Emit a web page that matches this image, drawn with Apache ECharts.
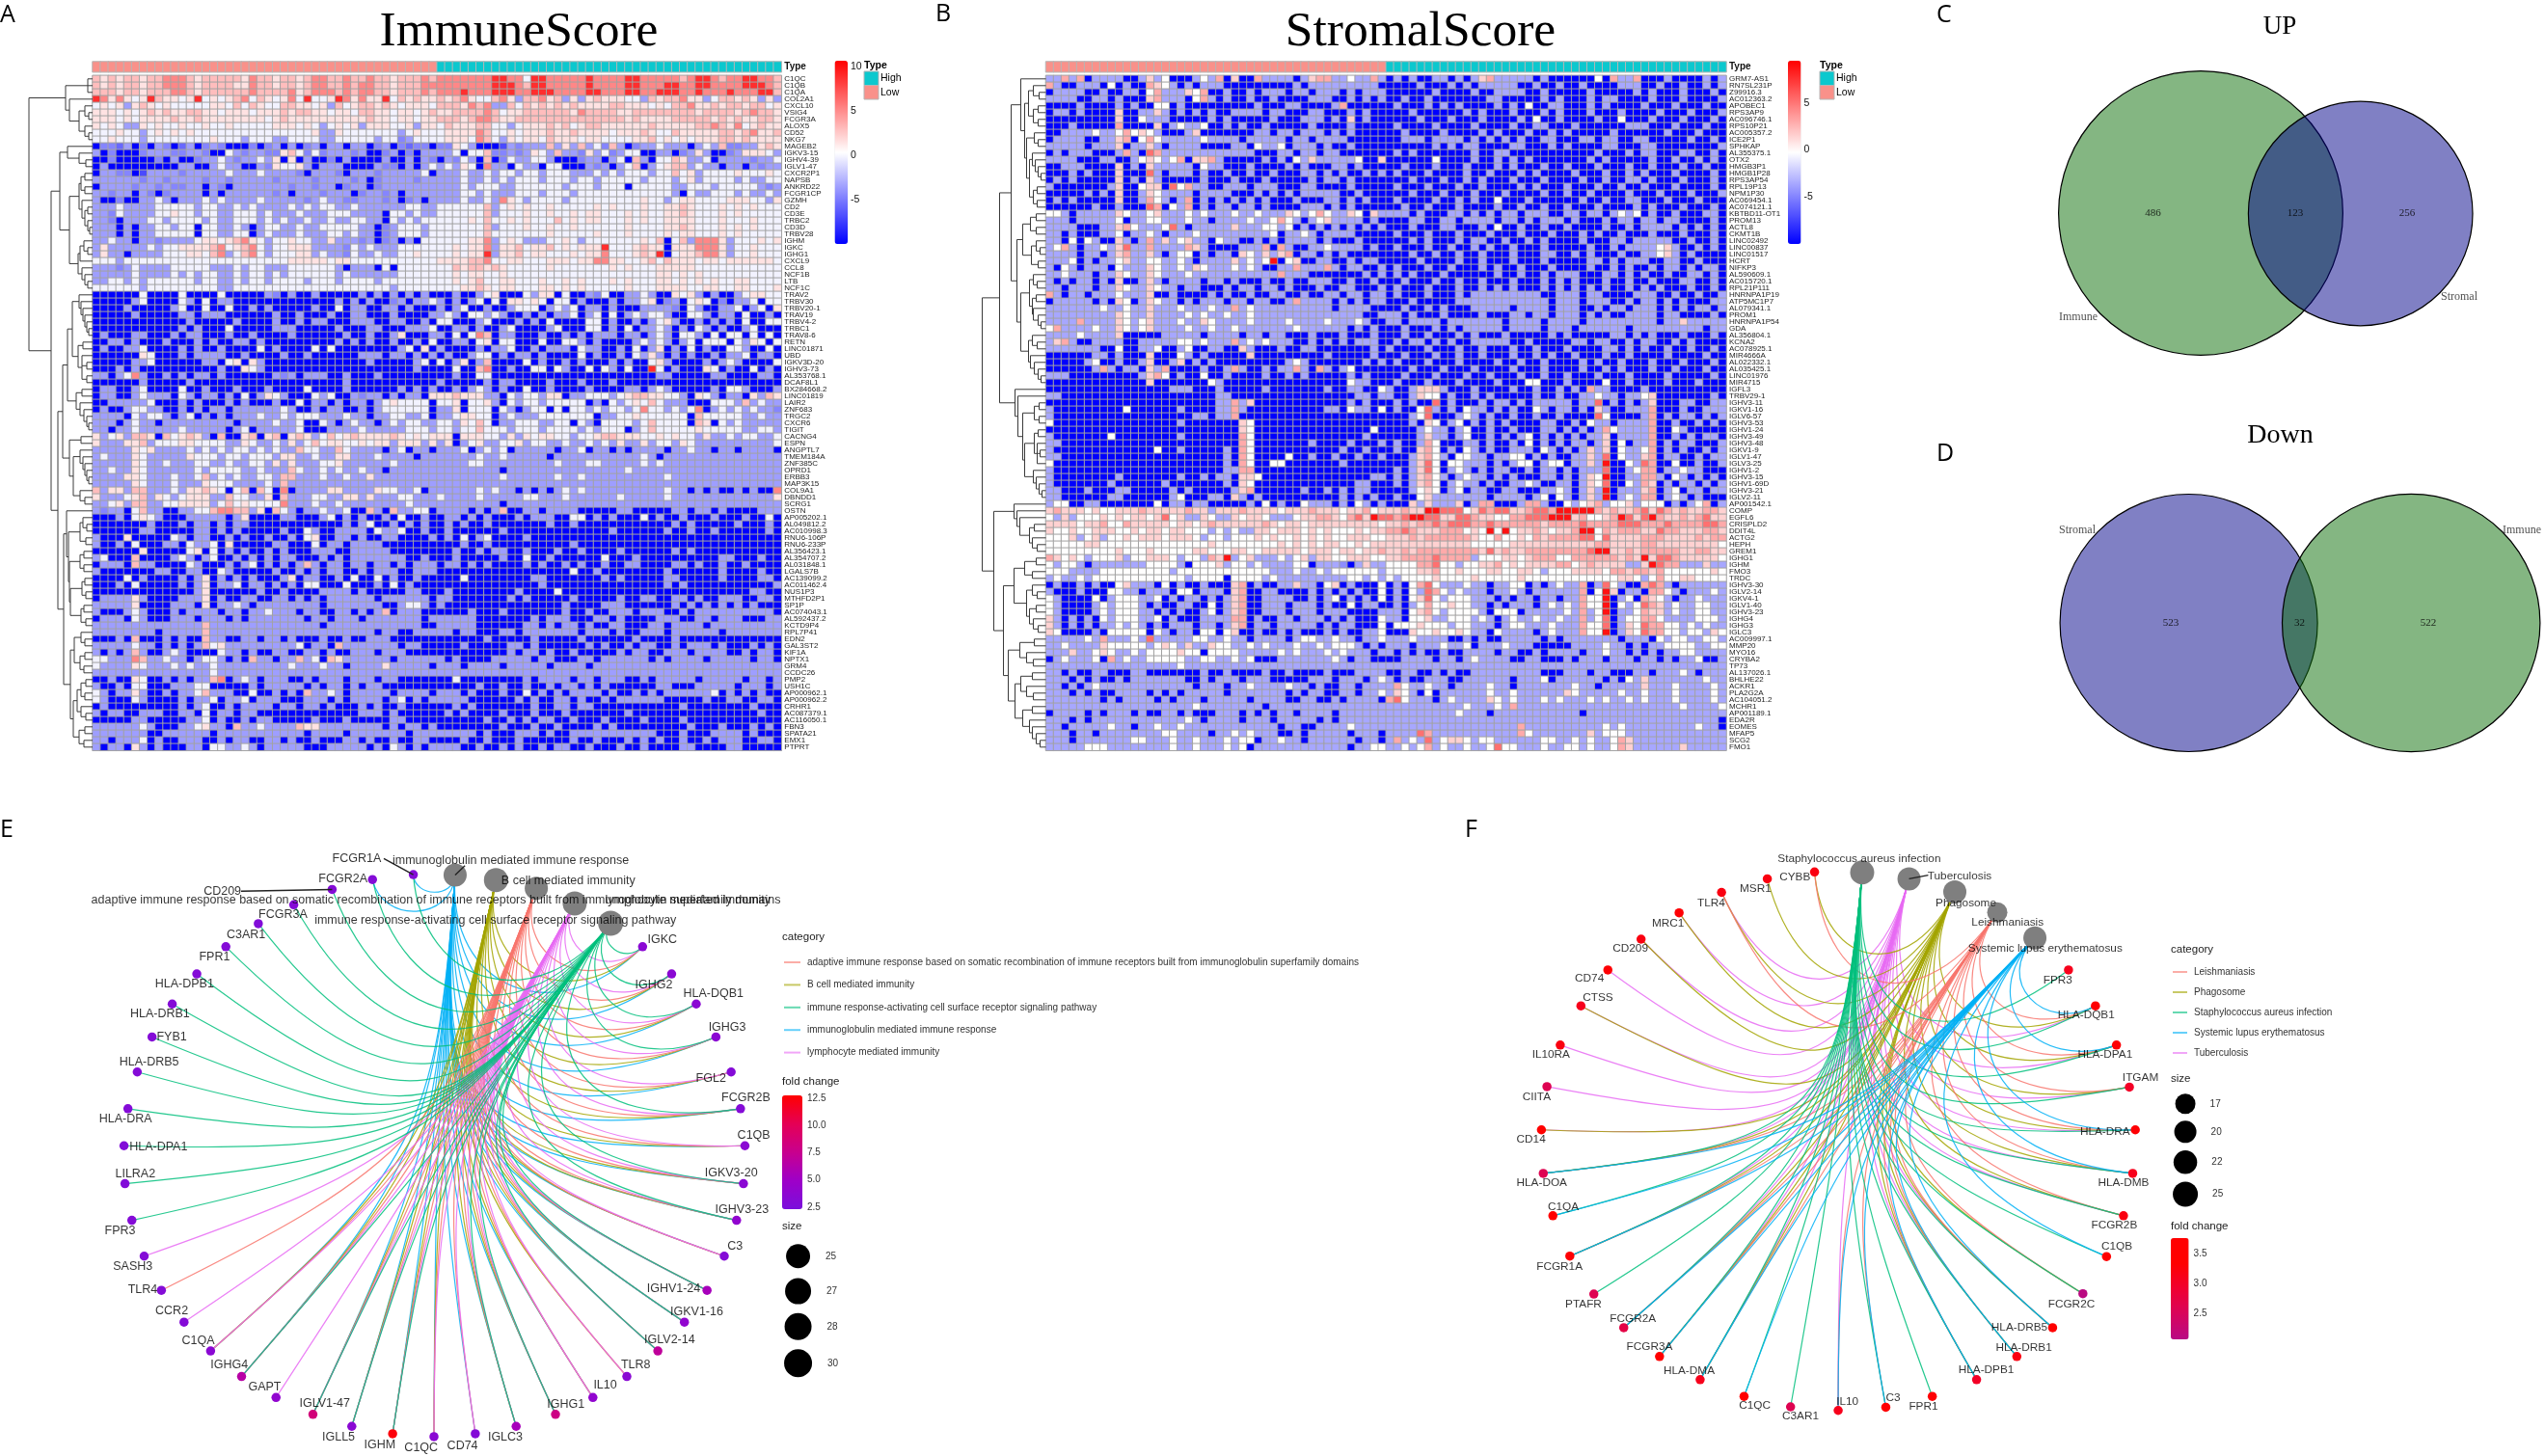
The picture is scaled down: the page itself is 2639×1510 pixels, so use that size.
<!DOCTYPE html>
<html><head><meta charset="utf-8">
<script src="https://cdn.jsdelivr.net/npm/echarts@6/dist/echarts.min.js"></script>
<style>html,body{margin:0;padding:0;background:#fff}#c{width:2639px;height:1510px}</style></head>
<body><div id="c"></div>
<script>
// ---------- heatmap values, estimated cell by cell: one digit per cell, eight groups of eleven columns
const levelValues = [-10,-7,-5.8,-4.6,-3.6,-0.2,1.5,3,5.2,8.8];
const typeCounts = {Low:44, High:44};
const genesA = ["C1QC","C1QB","C1QA","COL2A1","CXCL10","VSIG4","FCGR3A","ALOX5","CD52","NKG7","MAGEB2","IGKV3-15","IGHV4-39","IGLV1-47","CXCR2P1","NAPSB","ANKRD22","FCGR1CP","GZMH","CD2","CD3E","TRBC2","CD3D","TRBV28","IGHM","IGKC","IGHG1","CXCL9","CCL8","NCF1B","LTB","NCF1C","TRAV2","TRBV30","TRBV20-1","TRAV19","TRBV4-2","TRBC1","TRAV8-6","RETN","LINC01871","UBD","IGKV3D-20","IGHV3-73","AL353768.1","DCAF8L1","BX284668.2","LINC01819","LAIR2","ZNF683","TRGC2","CXCR6","TIGIT","CACNG4","ESPN","ANGPTL7","TMEM184A","ZNF385C","OPRD1","ERBB3","MAP3K15","COL9A1","DBNDD1","SCRG1","OSTN","AP005202.1","AL049812.2","AC010998.3","RNU6-106P","RNU6-233P","AL356423.1","AL354707.2","AL031848.1","LGALS7B","AC139099.2","AC011462.4","NUS1P3","MTHFD2P1","SP1P","AC074043.1","AL592437.2","KCTD9P4","RPL7P41","EDN2","GAL3ST2","KIF1A","NPTX1","GRM4","CCDC26","PMP2","USH1C","AP000962.1","AP000962.2","CRHR1","AC087379.1","AC116050.1","FBN3","SPATA21","EMX1","PTPRT"];
const genesB = ["GRM7-AS1","RN7SL231P","Z99916.3","AC012363.2","APOBEC1","RPS3AP9","AC096746.1","RPS10P21","AC005357.2","ICE2P1","SPHKAP","AL355375.1","OTX2","HMGB3P1","HMGB1P28","RPS3AP54","RPL19P13","NPM1P30","AC069454.1","AC074121.1","KBTBD11-OT1","PROM13","ACTL8","CKMT1B","LINC02492","LINC00837","LINC01517","HCRT","NIFKP3","AL590609.1","AC015720.1","RPL21P111","HNRNPA1P19","ATP5MC1P7","AL079341.1","PROM1","HNRNPA1P54","GDA","AL356804.1","KCNA2","AC078925.1","MIR4666A","AL022332.1","AL035425.1","LINC01976","MIR4715","IGFL3","TRBV29-1","IGHV3-11","IGKV1-16","IGLV6-57","IGHV3-53","IGHV1-24","IGHV3-49","IGHV3-48","IGKV1-9","IGLV1-47","IGLV3-25","IGHV1-2","IGHV3-15","IGHV1-69D","IGHV3-21","IGLV2-11","AP001542.1","COMP","EGFL6","CRISPLD2","DDIT4L","ACTG2","HEPH","GREM1","IGHG1","IGHM","FMO3","TRDC","IGHV3-30","IGLV2-14","IGKV4-1","IGLV1-40","IGHV3-23","IGHG4","IGHG3","IGLC3","AC009997.1","MMP20","MYO16","CRYBA2","TP73","AL137026.1","BHLHE22","ACKR1","PLA2G2A","AC104051.2","MCHR1","AP001189.1","EDA2R","EOMES","MFAP5","SCG2","FMO1"];
const heatA = [
"76767767788 87677777687 76776788778 77877677787 88888889988 59988888988 88998888878 99878899887",
"76767767788 87677776687 76776788778 78877677788 88888889998 79988888988 88998889988 99888899987",
"77767767778 87677777787 77786788878 78877677787 88898889998 89998888998 88998899988 98889888997",
"98686569766 56956567857 65685955698 68669576766 76786557864 77867464676 66554767786 64577676464",
"56564676565 55556657576 55776656475 67767656665 77768784475 76767676666 77666565778 66767767756",
"66656567676 67766566656 66767766566 57766566567 66777787566 77777768777 76677777777 67777678776",
"66656566667 66766666666 56766666666 66766566566 77767887667 77777777777 77676666777 77676766776",
"65654465655 65565565555 56665654565 64666556466 57666775545 66676756776 66666766666 77876856766",
"55565545656 56555555555 55555564465 55555545655 56666875565 66676676666 56667655766 66677678667",
"55655545555 55556555455 54455554455 55545534555 56665875465 66576665665 55566756565 66677676666",
"03324030430 24034300030 34040340440 44034032330 33654000143 44474647453 74034454440 45473344676",
"40300034443 34430054344 33675353444 34003403044 44505573343 46547443645 34550044034 64003466654",
"00300000304 00344543445 46060400304 00004004043 04354070354 45540003440 45074055764 45044443445",
"04000000000 44004544004 36556404440 00043304045 45465084405 44055000434 04570456774 54404404344",
"04433014444 34444454445 44443044430 44434444450 44454454554 55455544454 54555455756 45555655565",
"44444434434 44434434444 43444434444 34034444344 44454454545 55455545545 55554555456 45555454455",
"04444344343 34404304444 44434434403 44034444444 44454555445 55555455545 55055555445 55455555434",
"44344043034 44404044444 43404443444 03443404444 44455454445 55455545555 55555555405 44555454454",
"40030044540 44454544445 44444345443 34443403404 44454454865 45555455555 55556554566 55556665546",
"44454444555 55455445454 44454545544 54444445544 55555574565 65565555565 65556556676 55565656555",
"44354444556 55455445554 54445444555 44440554544 55555574555 65565565665 55656556676 55565655555",
"44304445545 55545445554 54544544544 55440545455 55556575565 65557565665 55656556666 55565556555",
"44404044554 55055445404 55445445555 54403455545 55555574555 65565565555 55655556676 55565656555",
"44404044555 55055445504 54445444554 54403455545 55555575555 55565555565 55655556566 55565655555",
"44544044344 44566567865 45565544644 43403404055 55556684565 44455654555 55556570574 88864555656",
"46444445455 66667856785 45566644443 54544455555 55656684667 56675656669 55567660666 88864556555",
"46440444455 56657845785 45556645443 54454455655 55656694667 56655565668 55567690566 78864556555",
"55545555555 55555555555 55566666566 55555555555 66667785566 55566656688 66556757666 56656666665",
"44434544445 55554445455 44455555540 44405055555 55767767655 55565555555 65655566666 55555555555",
"44444544445 45455445455 45455555545 44444455555 55656655655 55555555555 55555566565 65555555555",
"44554545555 55455445455 45555455545 55545555555 55656755665 55655656555 65655566565 65655665555",
"55555545555 55555445555 55555555555 55555455555 55566765665 55665656555 55655566665 56655665556",
"00000050000 50000500000 43040040000 04040404040 00400456000 54660500435 00445400656 40400456655",
"00000450000 54050440000 00000000040 40400340445 40404505066 56505504000 40445603405 65030445055",
"00004000004 50050050040 40000040050 44004404000 40450040045 55045450440 40004444305 40044504506",
"00000400000 44044400000 04004000400 44000400004 45405545400 40404450450 50454554005 54044050040",
"00000000000 04000004000 04004044000 44400440040 55000450004 04050000550 40040456400 40404050055",
"00000000000 40400050000 04440000040 00440004445 00440400450 00045000550 40504454040 54040045000",
"04000440004 04400040040 00040000004 00400460004 40505870440 00400404044 40440454055 40505505050",
"00440400040 00404004404 00000000040 40400400405 00440560550 00500554040 00045454045 05550546505",
"04004450000 40400400005 04000050500 00000045060 40000404450 04044405440 04050460405 04005540050",
"00000065000 40444400400 00400400000 04440440404 04004550404 40400005040 04054640404 00404450440",
"00000445000 00044056064 00000000000 00400000450 50460470000 50400404000 40400564000 04045400005",
"00040400000 00000400654 00000000000 00000000400 00500780040 05505400505 40500950400 06504005040",
"44045840040 40440400000 04340444004 00040000000 00400550000 00000000000 00000044000 00440000440",
"00000040000 04000000000 00000000004 00000000000 40000040440 00040004000 40000000000 00000000000",
"04400450000 50040004000 40000500004 00000040404 00404540400 50040000400 00440454000 00405540004",
"04400454440 54044040504 65400054500 43440404406 66766644054 55466044555 45677665540 65404406476",
"00444445000 40400040400 04005044040 44045655550 55605564054 55455555040 54565754440 00555474544",
"04004554400 40404404444 44540040440 04045555550 44605550540 45505055454 55458554545 80454545443",
"44440545540 45040404445 44545554445 44044554450 44566550454 44555555504 45565555550 75555544544",
"44404544044 44444440444 45445005404 54404545544 55465750445 55445505405 55545755550 76054544444",
"44044544444 54444404504 44445000444 45444445554 55455755545 55455554545 55045755555 65555544554",
"64564776075 67640700670 67067645756 76666765656 66066655464 65665545567 76665565655 46445455445",
"64446674555 66555544654 45464575665 56566466646 46045644556 45544544545 46446455465 44444444445",
"44444656444 45454545545 45447554475 44440450440 44450454504 44440445044 04044440445 44044044440",
"45444654444 46555455455 54664454466 44454444044 44444544544 44404444444 44445404444 44444444444",
"44444654454 44554454455 46464445564 44444544444 44445544444 44445444554 44445454444 44444444444",
"44544654444 44545555445 44475445454 45440444444 44444444044 44444444444 44544444444 44444444444",
"44446654445 44574545445 54774445445 44644444444 44444444544 44445445444 44444445444 44444444444",
"44444654445 44465554444 54744444444 44444444444 44444444444 44444444444 44444444444 44444444444",
"74664774445 46676505707 50804444664 44465544504 44444545440 40404545444 44444445440 40400404008",
"64445674654 56664475544 60744455446 64644455444 54444544444 55444544444 45444445444 44444444446",
"44564774455 66664575655 55844454454 44444445444 44444444044 44444444444 44444444444 44444444444",
"43440574400 44557887746 07540445445 00740744550 44440404700 44044440000 04400000440 44040000444",
"00040565400 04444404600 00440004504 04004050040 04404040004 04440055040 40005040040 00400040050",
"00000004000 40440404400 00000000004 04500404040 04040040000 00040040000 00000000404 00000400040",
"00000044000 00440404000 00400540044 44054450040 04000000400 00000000000 40000004004 00400000040",
"40006000005 40440040400 40040560044 04004400004 04050450000 40000000000 00000000000 00000000000",
"40040500044 05445060000 04400050440 44440000000 00040040000 00000040000 00000000000 00000000000",
"00000060000 05605040400 40400044400 44444000000 00400404400 40004004000 04000000404 00000000000",
"45000700004 54045004040 40440004040 44444440040 00400000400 50040000005 00040000000 00044000400",
"04440744000 05400040450 40404740440 44044040444 04404040000 40400404004 00440000440 40040040000",
"40000000440 04400540000 04004040440 04044400444 00000000000 00000050040 00000004000 00040000400",
"00005040000 40460404040 00460440040 50050400400 00050000000 04400000004 04000004400 00040000440",
"00040500000 40460445044 04040550005 00040504000 00000000000 00400000000 00000004040 00000000004",
"00000000000 00460000004 00400004444 04000004400 04000000004 00005000000 00000000000 00000004400",
"04444640000 44460400440 04404040444 44404444440 44000000040 40000040000 04004400440 40044400440",
"44444600004 44060445404 44444440444 44440045540 40000000000 00000400004 44000000404 04040404000",
"40004540004 04444044044 54440440044 04047044400 00004000400 00000400400 44404440040 44444444440",
"04440540004 44044404044 44444044044 40444444404 44444000000 04044400044 04000044400 44044400044",
"44444444444 44474444444 44444440444 44444444400 44444000000 44040440400 44000440444 40444444444",
"44444444044 44474444444 44444444444 44404400444 44044000440 44444440444 04004440444 44404444444",
"00040700040 40074400440 44040004004 00444000000 00000040000 04000004000 00040000400 00000000000",
"44444544040 40475644444 44445044074 44444404400 00040000044 04000000404 00404400404 44040004040",
"40404740045 40000544040 04400440400 44404440000 00000000040 44040040000 04044004440 44440040440",
"55444874454 40455404074 40447450764 44444044444 40400004444 40440004404 44444040444 40444440440",
"54444654445 45445444444 44454445440 44446444440 44404444044 44404444044 44444444444 44444444444",
"44444444444 44445444444 44444444444 44444444444 44444444444 44444444444 44444444444 44444444444",
"00400650040 40447804540 44400404440 44404400000 00500000000 40444404404 44004044444 04444404404",
"40040550004 44550000040 44444040440 40440000000 00000400400 40040440404 00000044000 44444044404",
"54044640040 44574440050 04040744540 44444044440 44404000400 50404044440 40040404444 44504040400",
"54000540000 40445044504 44000444040 44440450404 44440000004 04004404004 04444440000 04004400440",
"04000000000 40450040444 40440440400 04040040000 00404000000 04004404400 00000000040 00000004000",
"40440044400 44050440440 00000000000 04440400000 04040000400 04000400000 00400000000 00000000400",
"00000440000 04450400404 40000040004 00000440000 00000040040 40440040004 00004000040 00000000000",
"44444454000 44564407445 44447664444 44440404404 00000000400 04004000040 40000000004 00040004040",
"44444440044 44440444444 44444044440 44444440444 44444040004 44040044444 44444400040 00444404000",
"44044450400 44400404400 44040040004 40400400440 00040040004 00000040040 00404040040 04044400440",
"40440640400 04405544540 44444000444 44040540404 44400400404 00404400400 04004000044 00004400000"
];
const heatB = [
"44747044440 04645000454 70600744440 46774454474 04040044040 46744444040 00000507447 00040000404",
"74004440504 00765404044 40000000004 04444444440 00004000404 04444400400 40040000444 00400400404",
"04444004004 40574446570 04004044404 40444040444 00000040000 40044440040 00004000004 04000400040",
"44440044040 00674440574 04004004000 04440040404 00400400000 00440000040 40004044000 04000400004",
"00004000040 40055040000 00000400044 00004700000 04000404040 00040405004 40004040000 40004000400",
"04404000060 04464040404 00444404400 04400040400 00040000004 04000400040 40004000400 00400040004",
"00000000060 05444000004 04000004000 44404060400 00004000400 04000040500 40000400500 04000400040",
"00040000070 00060454450 04040040000 04000040000 04000040000 40000400440 00400000044 40004000400",
"00444454457 56540004600 00000440440 44404040000 00400004000 04040004004 04000004000 00040004000",
"04444004467 05754444454 44404444404 40444400000 00444044440 40404040044 00044044004 40000040040",
"44444044460 44640444400 00440544504 44040040000 00000040404 40000440004 04000044000 44000000004",
"04044400047 40874444444 44444000440 44044000000 04040000000 40044000000 00000400040 44000440040",
"44440004400 45654570667 40000040405 46444445006 00000050000 40040404000 00004040000 04004004040",
"00444000060 40644444054 40004000040 40004404000 00400040004 00040400040 04000400040 04000400400",
"00040400060 00840444040 04004004000 44040400404 04000400004 00400040400 00400040040 40004000040",
"04040000060 40640000040 00400040000 04044040000 00040004004 04000400040 00040040044 04000400040",
"40000000460 05660857440 04440444000 44000040000 04000400040 04000040400 04000400400 40004000040",
"00000404060 04654444044 44000404040 44444004000 00040004000 40004000040 04004000040 00400040004",
"04040000060 04754047040 40404040004 00044040400 04000040040 40050004000 00040040044 00040004000",
"00000040040 00870547040 44044040000 44404040000 00400400040 00040040040 04000400004 04000400040",
"55404444465 44564445454 44544544465 45754465064 44404000440 40404404440 04404404545 04004000440",
"44404444450 44554445440 44445445754 04564444040 00044004404 44404404044 40400040440 44044000040",
"44440004467 54445840444 44644455450 40404040404 00040004400 04050040040 04000040040 44440404040",
"44040004450 44540444544 44444445044 54044440000 04000400040 00400040004 00040400400 04000400040",
"44050540064 04746456440 54400404044 44040004000 00040400040 44004004040 00040004404 44440040040",
"45740445468 44744447640 00044470740 04454444040 04000400400 40400400040 00004004044 44564004040",
"44440440467 44640455040 44065464670 44040400000 00040040040 04000400044 00404000400 44564040000",
"44450404456 44554454044 44645459056 00440040440 00004000040 04000400040 00004404044 40044004000",
"40540444054 44654454654 44545400447 44474044004 04000400400 04040040004 00004004040 04044040440",
"44544404465 44654445444 44444444744 40000000404 04040004000 00040040040 44400044040 40040044040",
"40404404060 04640444404 40400040040 04440040040 00400040040 04000400040 40400040040 04000440040",
"44044404465 44654404400 04044044040 00400440004 04000400040 04040400040 40404040040 40400040040",
"74044044454 44600400004 04004004400 40044044044 04000400040 44444444400 44404400004 44004004004",
"04444404065 04654404044 40440440047 44440404044 00040000044 44444444440 44404440040 44040400044",
"44444445445 44644454445 44745444444 44440444400 00400404000 44444044440 44400404404 44040404404",
"44444444465 44644445454 45445444444 44444444004 44040004000 04000440440 44404040044 44044000040",
"44447444465 45644454465 44445444454 44454445400 44044440444 44440444404 44404444444 44044644444",
"57444454465 45644445445 44544444445 44444404040 00400040404 44440444404 44044444404 44444444044",
"44445444460 00004444404 44404404400 04000400040 00400400040 40004000004 04000004404 04000400040",
"46740044440 04444455454 44745454440 04040404440 04044040400 44444004000 00440440040 44004040000",
"44444440050 04450045004 40064000400 44000000040 40000400040 04000400400 04000044040 40040040040",
"00000044040 00600054040 00006000000 00040000040 00400040040 04000400404 00400040040 00040000400",
"00000450040 04600460404 00000000045 40000000404 04000400040 00040040040 00040400400 04000400040",
"00000047404 40647000040 04740040447 40740450000 00040004000 40000400040 00040040400 04004000400",
"44400000000 04675040050 04000040040 40000040400 00400040004 00400040040 04000400040 00040000040",
"00000000000 00600000005 40000000000 00000054400 04000400040 00040005500 04000050040 00040004000",
"00000000000 00000444000 40000040000 00040044005 40046664000 40000400400 40407440000 40000000000",
"44000000000 00000000000 44000000000 00000004404 40046550400 40400000400 40044544044 56000000040",
"00000000000 00000000000 44746000000 00000040400 04040080400 04044040444 44044804040 46000440044",
"40000000005 00000040000 44740000000 00044054405 04005840405 44040400540 44040640044 47000400444",
"40000000000 00000000440 44700000000 00000000000 00045800045 40400400400 40000850000 47040440404",
"50000000000 00000040000 00065000000 00000000000 00040650450 40404000044 00405440444 47004004040",
"00000000000 00000000000 00065000000 00000000050 00004544045 00400400044 04040475444 47005400000",
"40000000500 00000040000 00075000000 00000000400 00004644045 00404045040 40404460444 47004040440",
"44000000000 00000000000 00075000000 04000040004 04004750004 40400405040 40440460504 47040440004",
"40000000000 00050040000 04075000000 00000400400 04006750405 40400444054 04046460544 57040400404",
"44000000000 00000000000 04075000050 04004004004 00046754055 44044550404 00446480544 67044004044",
"50000000000 00000000000 04075005500 00000400000 00046850554 44040455045 50446490054 87005004004",
"40000000000 00000000000 04477000000 00000000000 04046850454 04044004044 04044480045 77044544000",
"40000000040 00000040040 44066500000 00000000044 04046754045 44040400044 04046590044 77405404040",
"40000000400 00004000000 04065000000 00000004400 04046750454 40400445400 44046580054 76040440404",
"44000400044 00000404000 00467000000 40040404400 00045650450 44004400044 54046490444 67045044044",
"44000000440 00000450004 40640400000 00000404040 04005644444 44044440450 54046490454 77045404000",
"45500440000 00050440440 00004050400 54440405404 00064644460 47700047740 05456745564 55504045704",
"67666565566 67666667664 66676666566 67666566756 66766998885 68788667887 99999767667 86876766776",
"54645556565 66568564465 44656654445 66776578698 87899886688 76655778889 99675567986 89766767866",
"66665667557 66666566567 66666676566 56666666665 66767787888 77877777767 77787777888 77787777887",
"65565566655 65665665554 54544665666 56565556566 77876667775 65959566765 66799576777 66877666776",
"55564564556 56665666545 54555656556 56565566655 66676777777 65575565767 77788586666 77766667677",
"55555665555 55555555556 55555555656 56566556566 66666666666 55555666666 66666776666 77666666665",
"55555555565 55655555665 55665566666 56665665667 66767777777 76867667777 77778996676 77777667766",
"76565455564 55666545547 69456444545 64665566655 66777787777 45556656777 55777777676 96887666665",
"54554044444 44555540555 64554544445 50444304644 55557785545 56675656666 77567666644 69877444644",
"55544445555 55555455555 55555554445 44545555554 55556675565 55665566545 55666657767 76755555565",
"45445455555 55555554555 50555545444 44444455454 54555565555 65555565555 55555555665 45755665555",
"04004040056 44405040040 00670400446 44056040005 04057854445 44044550404 54470485400 78740444444",
"40004000554 40444055044 40670044000 04040404005 04054875454 44044540444 44470596044 07754044454",
"54000050455 54450404404 04670044440 04045040405 04056854555 44404044044 04475590450 76540445444",
"54000045455 54040044005 04670044404 44040050440 04045755655 44040444045 45475590545 87645445544",
"54000045455 54404040045 04670044404 44044400004 44056754555 54055504444 45474590445 76645445544",
"64040405455 54450400044 44770400440 44404040005 44055644555 45404544544 54474580455 77544445554",
"64040404454 54040444044 04670440444 44040440005 05556555455 44404554445 44475580465 87755454544",
"65000040555 55054044055 05600400404 00040400445 00065565565 44054444045 44475590465 87755455465",
"44444547444 54844444554 45440444404 55445440445 44454444004 04004444404 04444444044 40545544554",
"44544446555 55456546446 55445454445 44545554040 44404445445 04445444000 00444454404 04455554455",
"44464456544 54555565505 55544444545 44454544404 40404004004 44404400404 44404454404 04044554444",
"04544450745 44555554455 44545000444 44445404400 00444404404 54444004400 04044404440 44040445004",
"44444444444 44444454444 44444444444 44444444444 44444444444 44444444444 44444444444 44444444444",
"44040044000 44000000040 04000040040 00040004444 00440040400 44444444400 04440440004 40444540444",
"44404040040 44444440040 44404440000 04440444045 40400444004 44444044450 44444404054 64444444544",
"44040454444 44444444044 40445444454 40400440444 47544544044 44544044444 44544044444 64445444454",
"44404040044 44040404444 40444444404 04400440445 46540504444 44544544444 46544444544 54445444454",
"44444440404 44404044404 44440444400 44004044440 78544404544 44654544454 54445454454 54445444454",
"44444444444 44444444544 44444404444 44444444444 44444444445 44454744444 44444444444 44444544445",
"04444040444 04004404000 44404040440 44440444444 44444444454 44044444444 44404444444 44444444444",
"44404044444 44444445404 44404440444 44040444444 44444444444 44444444444 44444444444 44444444440",
"44044444544 04454454444 44444444044 00444454444 44444444444 44444474444 44444454544 44444445440",
"44404404444 44445544440 44545444004 04444404440 44448744444 44444475444 44446455544 44444444444",
"44404444444 55444544544 45455044544 04444440440 47454845665 45544444455 44545445764 44444444444",
"44444555444 44444544544 45450444444 44444404455 44545745445 44585544454 45545445764 44444644444"
];
// ---------- dendrograms: [height, child, child, ...]; 0 is a leaf
const dendroA = [66,[28,[5,0,0,0],[24,0,[14,[8,0,[4,0,0]],[8,0,[4,0,0]]]]],[43,[34,[26,0,[14,0,[7,0,0]]],[24,[14,[12,[8,0,0],[8,0,0]],[11,0,[8,[5,0,0],[5,0,[3,0,0]]]]],[15,[13,[9,0,[5,0,0]],0],[11,0,[8,0,[5,0,0]]]]]],[36,[31,[26,[21,[14,0,[12,0,[10,0,[8,0,[6,0,[4,0,0]]]]]],[15,[10,0,0],[11,0,[6,0,0],[6,0,0]]]],[17,[11,0,0],[13,0,[9,0,[6,0,[4,0,0]]]]]],[24,[12,0,0],[20,[13,0,[10,0,[8,0,[6,0,[4,0,0]]]]],[13,0,[8,0,0]]]]],[30,[27,0,[25,[13,[10,0,[6,0,0]],[7,0,0]],[24,[13,[9,0,0],[9,0,0]],[23,[11,[8,0,0],[7,0,0]],[12,[9,0,0],[7,0,0]]]]]],[23,[19,[12,0,[8,0,0]],[13,[8,0,0],[9,0,0]]],[20,[16,[12,[7,0,0],[8,0,0]],[12,0,[7,0,0]]],[14,[8,0,0],[9,0,0]]]]]]]];
const dendroB = [66,[48,[36,[26,0,[22,[18,[13,0,[7,0,0]],[13,[8,0,0],[8,0,0]]],[20,[12,0,[8,0,0]],[17,[14,0,[11,0,[8,0,[5,0,0]]]],[13,[9,0,0],[9,0,0]]]]]],[30,[24,[16,[10,0,0],[10,0,0]],[15,[10,0,[6,0,0]],[8,0,0]]],[26,[17,[13,0,[9,0,0]],[14,[10,0,0],[13,0,[8,0,[5,0,0]]]]],[18,[14,0,[9,0,0]],[16,0,[12,0,[8,0,[5,0,0]]]]]]]],[32,0,[29,0,[24,[12,[7,0,0],[7,0,0]],[22,[12,[8,0,0],[9,0,[6,0,0],0]],[13,0,[10,0,[7,0,[4,0,0]]]]]]]]],[54,[33,0,[30,0,[27,0,[17,[12,0,0],[14,0,[9,0,0]]]]]],[44,[33,[22,[10,0,0],[14,0,0]],[20,[14,0,[9,0,0]],[17,[10,0,0],[13,0,[8,0,0]]]]],[39,[27,[12,0,0],[20,0,[13,0,0]]],[32,[26,[14,0,0],[20,0,[13,0,0]]],[24,[14,0,0],[17,0,[14,0,[10,0,[6,0,0]]]]]]]]]];
// ---------- Venn sets
const vennUpSets = ["Immune","Stromal"], vennUpCounts = [486,123,256];
const vennDownSets = ["Stromal","Immune"], vennDownCounts = [523,32,522];
const vennUpCircles = [[282,221,147.4],[447.7,221.5,116.3]];
const vennDownCircles = [[269.6,646,133.5],[500.2,646,133.7]];
const vennCountX = [232.6,380,496,251,384.5,518], vennCountY = [221,221,221,646,646,646];
const vennSetX = [155,550,154,615], vennSetY = [329,308,550,550];
// ---------- network E
const termsE = ["adaptive immune response based on somatic recombination of immune receptors built from immunoglobulin superfamily domains","B cell mediated immunity","immune response-activating cell surface receptor signaling pathway","immunoglobulin mediated immune response","lymphocyte mediated immunity"];
const hubXE = [1090,1008,1241,925,1168], hubYE = [190,170,275,158,227], hubSizeE = [25,27,30,25,28];
const hubLabelXE = [886,1155,1007,1038,1398], hubLabelYE = [219,171,268,122,219];
const geneNamesE = ["FCGR1A","FCGR2A","CD209","FCGR3A","C3AR1","FPR1","HLA-DPB1","HLA-DRB1","FYB1","HLA-DRB5","HLA-DRA","HLA-DPA1","LILRA2","FPR3","SASH3","TLR4","CCR2","C1QA","IGHG4","GAPT","IGLV1-47","IGLL5","IGHM","C1QC","CD74","IGLC3","IGHG1","IL10","TLR8","IGLV2-14","IGKV1-16","IGHV1-24","C3","IGHV3-23","IGKV3-20","C1QB","FCGR2B","FGL2","IGHG3","HLA-DQB1","IGHG2","IGKC"];
const geneXE = [840,757,675,597,525,459,400,350,309,279,260,252,254,268,293,328,374,428,491,561,636,715,798,882,966,1049,1129,1205,1274,1337,1391,1437,1472,1497,1511,1514,1505,1486,1455,1415,1365,1306];
const geneYE = [157,169,193,230,276,332,398,471,551,636,725,815,907,996,1083,1166,1243,1313,1375,1426,1467,1496,1514,1521,1514,1496,1467,1426,1375,1313,1243,1166,1083,996,907,815,725,636,551,471,398,332];
const geneFoldE = [3,3,3,3,2.8,3,3,3,3,3,3,2.8,2.8,3,3,3,3,3.5,6.5,4,8.5,3.5,12.5,3.5,3,5.5,8,4,3.5,7,4,5.5,3,4,3.5,3.5,3,3,3.5,3.5,3.5,3.5];
const geneLabelXE = [725,697,452,575,500,436,375,325,349,303,255,322,275,244,270,290,349,403,466,538,660,688,772,856,940,1027,1150,1230,1292,1361,1416,1369,1494,1508,1486,1532,1516,1445,1478,1450,1329,1346];
const geneLabelYE = [119,167,197,253,304,357,423,496,551,612,750,818,884,1022,1109,1164,1217,1288,1348,1401,1441,1523,1541,1549,1544,1523,1443,1396,1347,1287,1218,1163,1059,971,882,791,698,651,527,447,424,315];
const igSetE = ["C1QA","IGHG4","IGLV1-47","IGLL5","IGHM","C1QC","IGLC3","IGHG1","IGLV2-14","IGKV1-16","IGHV1-24","C3","IGHV3-23","IGKV3-20","C1QB","FCGR2B","FGL2","IGHG3","HLA-DQB1","IGHG2","IGKC"];
const linksE = [
 igSetE.concat(["TLR4","IL10","TLR8","CD74"]),
 igSetE.concat(["IL10","TLR8"]),
 ["FCGR1A","FCGR2A","CD209","FCGR3A","C3AR1","FPR1","HLA-DPB1","HLA-DRB1","FYB1","HLA-DRB5","HLA-DRA","HLA-DPA1","LILRA2","FPR3","IGHG4","IGLV1-47","IGLL5","IGHM","IGLC3","IGHG1","IGLV2-14","IGKV1-16","IGHV1-24","IGHV3-23","IGKV3-20","FCGR2B","IGHG3","HLA-DQB1","IGHG2","IGKC"],
 igSetE.concat(["FCGR1A","FCGR2A","IL10","CD74"]),
 igSetE.concat(["SASH3","CCR2","GAPT","CD74","IL10","TLR8"])
];
// ---------- network F
const termsF = ["Leishmaniasis","Phagosome","Staphylococcus aureus infection","Systemic lupus erythematosus","Tuberculosis"];
const hubXF = [1492,1377,1126,1594,1253], hubYF = [208,157,108,272,124], hubSizeF = [17,20,25,22,22];
const hubLabelXF = [1520,1407,1118,1622,1390], hubLabelYF = [234,186,73,298,117];
const geneNamesF = ["CYBB","MSR1","TLR4","MRC1","CD209","CD74","CTSS","IL10RA","CIITA","CD14","HLA-DOA","C1QA","FCGR1A","PTAFR","FCGR2A","FCGR3A","HLA-DMA","C1QC","C3AR1","IL10","C3","FPR1","HLA-DPB1","HLA-DRB1","HLA-DRB5","FCGR2C","C1QB","FCGR2B","HLA-DMB","HLA-DRA","ITGAM","HLA-DPA1","HLA-DQB1","FPR3"];
const geneXF = [997,869,745,630,527,437,364,308,272,257,262,288,334,399,480,577,687,806,932,1061,1190,1316,1436,1545,1642,1724,1788,1834,1859,1866,1850,1815,1758,1685];
const geneYF = [107,124,158,209,275,352,442,540,644,752,861,967,1068,1163,1247,1319,1377,1419,1445,1454,1446,1419,1377,1319,1247,1162,1069,967,861,752,645,540,442,352];
const geneFoldF = [3.2,3.2,3.2,3.3,3.2,3.3,3.1,3.2,2.6,3.75,2.6,3.7,3.3,2.6,2.7,3.7,3.1,3.7,2.6,3.1,3.3,3.3,3,3.2,3.5,2.1,3.7,3.2,3.1,3.3,3,3.3,3.3,3.1];
const geneLabelXF = [944,837,717,600,498,387,410,283,244,229,258,316,306,371,505,550,657,835,959,1086,1210,1292,1462,1564,1552,1693,1816,1809,1834,1784,1880,1784,1733,1656];
const geneLabelYF = [120,149,185,236,298,373,421,563,670,777,884,944,1095,1188,1225,1295,1354,1443,1469,1432,1423,1444,1353,1297,1247,1188,1044,991,885,757,621,563,465,378];
const linksF = [
 ["CYBB","TLR4","HLA-DOA","FCGR1A","FCGR2A","FCGR3A","HLA-DMA","IL10","C3","HLA-DPB1","HLA-DRB1","HLA-DRB5","FCGR2C","FCGR2B","HLA-DMB","HLA-DRA","ITGAM","HLA-DPA1","HLA-DQB1"],
 ["CYBB","MSR1","TLR4","MRC1","CD209","CTSS","CD14","FCGR1A","FCGR2A","FCGR3A","HLA-DMA","HLA-DOA","HLA-DPB1","HLA-DRB1","HLA-DRB5","FCGR2C","FCGR2B","HLA-DMB","HLA-DRA","ITGAM","HLA-DPA1","HLA-DQB1"],
 ["HLA-DOA","C1QA","FCGR1A","PTAFR","FCGR2A","FCGR3A","HLA-DMA","C1QC","C3AR1","C3","FPR1","HLA-DPB1","HLA-DRB1","HLA-DRB5","FCGR2C","C1QB","HLA-DMB","HLA-DRA","ITGAM","HLA-DPA1","HLA-DQB1","FPR3","FCGR2B"],
 ["HLA-DOA","C1QA","FCGR1A","FCGR2A","FCGR3A","HLA-DMA","C1QC","IL10","C3","HLA-DPB1","HLA-DRB1","HLA-DRB5","C1QB","HLA-DMB","HLA-DRA","HLA-DPA1","HLA-DQB1"],
 ["TLR4","MRC1","CD209","CD74","CTSS","IL10RA","CIITA","CD14","HLA-DOA","FCGR1A","FCGR2A","FCGR3A","HLA-DMA","IL10","HLA-DPB1","HLA-DRB1","HLA-DRB5","FCGR2B","HLA-DMB","HLA-DRA","ITGAM","HLA-DPA1","HLA-DQB1"]
];
const sizeLegendE = [25,27,28,30], sizeLegendF = [17,20,22,25];
const foldTicksE = [2.5,5,7.5,10,12.5], foldTicksF = [2.5,3,3.5];
// ---------- styles
const hueColors = ['#F8766D','#A3A500','#00BF7D','#00B0F6','#E76BF3'];
const SANS = '"Liberation Sans"', SERIF = '"Liberation Serif"';
const sizePxE = {25:25,27:27,28:28,30:29}, sizePxF = {17:21,20:23,22:24.5,25:26};
const hubPxE = {25:24,27:25,28:25,30:26}, hubPxF = {17:21,20:24,22:24,25:25};

const grid=[],xAxis=[],yAxis=[],series=[],visualMap=[],gtexts=[];
const hidden={show:false};
function addGrid(l,t,w,h,x,y){grid.push({left:l,top:t,width:w,height:h,containLabel:false});const i=grid.length-1;
 xAxis.push(Object.assign({gridIndex:i,show:false},x));yAxis.push(Object.assign({gridIndex:i,show:false},y));return i;}
function txt(t,x,y,size,opt){gtexts.push({type:'text',x,y,z:50,silent:true,style:Object.assign({text:t,fill:'#000',font:size+'px '+SANS,align:'left',verticalAlign:'middle'},opt||{})});}

function heatPanel(rows,genes,left,width,colorMax,barX,tree,ticks){
 const cols=Array.from({length:typeCounts.Low+typeCounts.High},(_,i)=>i);
 const cells=[];
 rows.forEach((r,ri)=>{r.replace(/ /g,'').split('').forEach((c,ci)=>cells.push([ci,ri,levelValues[+c]]));});
 const g=addGrid(left,78.3,width,700,{type:'category',data:cols},{type:'category',data:genes,inverse:true,show:true,position:'right',axisLine:hidden,axisTick:hidden,
   axisLabel:{interval:0,fontSize:8,margin:3,color:'#222',fontFamily:SANS}});
 series.push({type:'heatmap',xAxisIndex:g,yAxisIndex:g,data:cells,progressive:0,animation:false,silent:true,itemStyle:{borderColor:'#a2a2a2',borderWidth:1}});
 visualMap.push({type:'continuous',seriesIndex:series.length-1,dimension:2,min:-10,max:colorMax,left:barX,top:63,itemWidth:13.5,itemHeight:190,padding:0,calculable:false,hoverLink:false,inRange:{color:['#0000ff','#ffffff','#ff0000']},text:null,show:true});
 const t=addGrid(left,64,width,10.7,{type:'category',data:cols},{type:'category',data:['Type'],show:true,position:'right',axisLine:hidden,axisTick:hidden,axisLabel:{interval:0,fontSize:10,fontWeight:'bold',margin:3,color:'#111',fontFamily:SANS}});
 series.push({type:'heatmap',xAxisIndex:t,yAxisIndex:t,progressive:0,silent:true,animation:false,itemStyle:{borderColor:'#b5b5b5',borderWidth:1},
   data:cols.map(i=>({value:[i,0,1],itemStyle:{color:i<typeCounts.Low?'#F9918A':'#0CC8CE'}}))});
 const a=addGrid(barX,63,13.5,190,{type:'value',min:0,max:1},{type:'value',min:-10,max:colorMax,show:true,position:'right',splitLine:hidden,axisLine:hidden,axisTick:hidden,interval:5,
   axisLabel:{fontSize:10.5,margin:3,color:'#111',fontFamily:SANS,customValues:ticks}});
 series.push({type:'scatter',xAxisIndex:a,yAxisIndex:a,data:[],silent:true});
 const d=addGrid(left-80,78.3,80,700,{type:'value',min:0,max:80,inverse:true},{type:'value',min:0,max:100,inverse:true});
 const segs=[];let leaf=0;
 (function walk(n){ if(n===0){return {y:(leaf++)+0.5,h:0};}
   const kids=n.slice(1).map(walk);
   kids.forEach(k=>segs.push([k.h,k.y,n[0],k.y]));
   const ys=kids.map(k=>k.y);const lo=Math.min(...ys),hi=Math.max(...ys);
   segs.push([n[0],lo,n[0],hi]);return {y:(lo+hi)/2,h:n[0]};})(tree);
 series.push({type:'custom',xAxisIndex:d,yAxisIndex:d,data:segs,silent:true,clip:false,animation:false,encode:{x:[0,2],y:[1,3]},
   renderItem:(p,api)=>{const a=api.coord([api.value(0),api.value(1)]),b=api.coord([api.value(2),api.value(3)]);
     return {type:'line',shape:{x1:a[0],y1:a[1],x2:b[0],y2:b[1]},style:{stroke:'#3a3a3a',lineWidth:1}};}});
}
heatPanel(heatA,genesA,96,714.3,10.65,865.5,dendroA,[-5,0,5,10]);
heatPanel(heatB,genesB,1084.5,705.5,9.5,1854,dendroB,[-5,0,5]);

[[896,'Type','High','Low',913],[1887,'Type','High','Low',1904]].forEach(l=>{
 txt(l[1],l[0],68,10.5,{font:'bold 10.5px '+SANS});
 txt(l[2],l[4],81,10.5);txt(l[3],l[4],96,10.5);
 gtexts.push({type:'rect',shape:{x:l[0],y:74,width:15,height:14.5},z:40,silent:true,style:{fill:'#0CC8CE',stroke:'#b5b5b5'}});
 gtexts.push({type:'rect',shape:{x:l[0],y:88.5,width:15,height:14.5},z:40,silent:true,style:{fill:'#F9918A',stroke:'#b5b5b5'}});
});

const v=addGrid(2000,0,639,800,{type:'value',min:0,max:639},{type:'value',min:0,max:800,inverse:true});
function venn(circles,fills){series.push({type:'custom',xAxisIndex:v,yAxisIndex:v,silent:true,clip:false,animation:false,data:circles.map((c,i)=>c.concat(i)),encode:{x:0,y:1},
 renderItem:(p,api)=>{const c=api.coord([api.value(0),api.value(1)]);return {type:'circle',shape:{cx:c[0],cy:c[1],r:api.value(2)},style:{fill:fills[api.value(3)],stroke:'#000',lineWidth:1.2}};}});}
venn(vennUpCircles,['rgba(10,110,5,.5)','rgba(2,2,138,.5)']);
venn(vennDownCircles,['rgba(2,2,138,.5)','rgba(10,110,5,.5)']);
const labelStyle=(size,fam,color)=>({show:true,position:'inside',formatter:p=>p.data.text,fontSize:size,fontFamily:fam,color:color||'#000'});
const vennNums=vennUpCounts.concat(vennDownCounts);
series.push({type:'scatter',xAxisIndex:v,yAxisIndex:v,symbolSize:0,silent:true,z:5,animation:false,label:labelStyle(11,SERIF,'#000'),
 data:vennNums.map((n,i)=>({value:[vennCountX[i],vennCountY[i]],text:String(n)}))});
const vennNames=vennUpSets.concat(vennDownSets);
series.push({type:'scatter',xAxisIndex:v,yAxisIndex:v,symbolSize:0,silent:true,z:5,animation:false,label:labelStyle(12,SERIF,'#222'),
 data:vennNames.map((n,i)=>({value:[vennSetX[i],vennSetY[i]],text:n}))});

function network(o){
 const g=addGrid(o.l,o.t,o.w,o.h,{type:'value',min:0,max:o.xmax},{type:'value',min:0,max:1568,inverse:true});
 const idx={};o.names.forEach((n,i)=>idx[n]=i);
 // control point: pulled toward the ring centre, in proportion to the chord length
 const ctrl=(A,L,C)=>{const dx=C[0]-A[0],dy=C[1]-A[1],d=Math.hypot(dx,dy),k=Math.min(.92*d,o.bend*L)/d;return [A[0]+k*dx,A[1]+k*dy];};
 o.drawOrder.forEach(ti=>{
  const term=o.terms[ti];
  const data=o.links[ti].map(n=>[o.gx[idx[n]],o.gy[idx[n]],o.hx[ti],o.hy[ti]]);
  series.push({name:term,type:'custom',xAxisIndex:g,yAxisIndex:g,silent:true,clip:false,animation:false,z:2,data,encode:{x:[0,2],y:[1,3]},itemStyle:{color:hueColors[ti]},
   renderItem:(p,api)=>{const P=[api.value(0),api.value(1)],H=[api.value(2),api.value(3)],L=Math.hypot(P[0]-H[0],P[1]-H[1]);
    const a=api.coord(P),b=api.coord(H),c1=api.coord(ctrl(P,L,o.center)),c2=api.coord(ctrl(H,L,o.center));
    return {type:'bezierCurve',shape:{x1:a[0],y1:a[1],x2:b[0],y2:b[1],cpx1:c1[0],cpy1:c1[1],cpx2:c2[0],cpy2:c2[1]},style:{fill:'none',stroke:hueColors[ti],lineWidth:1.2,opacity:.85}};}});
 });
 series.push({type:'custom',xAxisIndex:g,yAxisIndex:g,silent:true,clip:false,animation:false,z:6,data:o.leaders,encode:{x:[0,2],y:[1,3]},
  renderItem:(p,api)=>{const a=api.coord([api.value(0),api.value(1)]),b=api.coord([api.value(2),api.value(3)]);return {type:'line',shape:{x1:a[0],y1:a[1],x2:b[0],y2:b[1]},style:{stroke:'#222',lineWidth:1.4}};}});
 series.push({type:'scatter',xAxisIndex:g,yAxisIndex:g,silent:true,z:3,animation:false,itemStyle:{color:'#7f7f7f',opacity:1},data:o.hx.map((x,i)=>({value:[x,o.hy[i]],symbolSize:o.hubPx[o.hubSize[i]]}))});
 series.push({type:'scatter',xAxisIndex:g,yAxisIndex:g,silent:true,z:4,animation:false,symbolSize:9.5,itemStyle:{opacity:1},data:o.gx.map((x,i)=>[x,o.gy[i],o.fold[i]])});
 visualMap.push({type:'continuous',seriesIndex:series.length-1,dimension:2,min:o.barMin,max:o.barMax,left:o.barL,top:o.barT,itemWidth:o.barW,itemHeight:o.barH,padding:0,calculable:false,hoverLink:false,inRange:{color:o.ramp},text:null});
 const a=addGrid(o.barL,o.barT,o.barW,o.barH,{type:'value',min:0,max:1},{type:'value',min:o.barMin,max:o.barMax,show:true,position:'right',splitLine:hidden,axisLine:hidden,
   axisTick:{show:true,inside:true,length:3,lineStyle:{color:'#ffffff'},customValues:o.ticks},axisLabel:{fontSize:10,margin:5,color:'#333',fontFamily:SANS,customValues:o.ticks,formatter:o.tickFmt}});
 series.push({type:'scatter',xAxisIndex:a,yAxisIndex:a,data:[],silent:true});
 series.push({type:'scatter',xAxisIndex:g,yAxisIndex:g,symbolSize:0,silent:true,z:7,animation:false,label:labelStyle(o.font),
  data:o.names.map((n,i)=>({value:[o.lx[i],o.ly[i]],text:n}))});
 series.push({type:'scatter',xAxisIndex:g,yAxisIndex:g,symbolSize:0,silent:true,z:7,animation:false,label:labelStyle(o.font),
  data:o.terms.map((n,i)=>({value:[o.hlx[i],o.hly[i]],text:n}))});
 series.push({type:'scatter',xAxisIndex:g,yAxisIndex:g,silent:true,z:4,animation:false,itemStyle:{color:'#000',opacity:1},
  label:{show:true,position:'right',distance:o.sizeGap,fontSize:10,color:'#333',fontFamily:SANS,formatter:p=>String(p.data.size)},
  data:o.sizeLegend.map((s,i)=>({value:[o.sizeX,o.sizeY[i]],symbolSize:o.sizePx[s],size:s}))});
}
network({l:0,t:840,w:1000,h:670,xmax:1960,terms:termsE,names:geneNamesE,links:linksE,gx:geneXE,gy:geneYE,fold:geneFoldE,lx:geneLabelXE,ly:geneLabelYE,hx:hubXE,hy:hubYE,hubSize:hubSizeE,hubPx:hubPxE,hlx:hubLabelXE,hly:hubLabelYE,
 drawOrder:[3,1,0,4,2],center:[884,835],bend:.66,font:12.5,leaders:[[780,118,840,157],[490,197,675,193],[925,158,945,135]],
 barMin:2.3,barMax:12.8,barL:811,barT:1136,barW:21,barH:118,ramp:['#7A0FDC','#9E00C8','#C8008E','#E50055','#FF0000'],ticks:foldTicksE,tickFmt:v=>v.toFixed(1),
 sizeLegend:sizeLegendE,sizePx:sizePxE,sizeX:1622,sizeY:[1083,1168,1254,1343],sizeGap:16});
network({l:1500,t:860,w:1139,h:650,xmax:2976,terms:termsF,names:geneNamesF,links:linksF,gx:geneXF,gy:geneYF,fold:geneFoldF,lx:geneLabelXF,ly:geneLabelYF,hx:hubXF,hy:hubYF,hubSize:hubSizeF,hubPx:hubPxF,hlx:hubLabelXF,hly:hubLabelYF,
 drawOrder:[4,1,0,2,3],center:[1061,780],bend:.66,font:11.8,leaders:[[1253,124,1305,115]],
 barMin:2.07,barMax:3.76,barL:2251,barT:1284,barW:18.6,barH:105,ramp:['#B80A84','#D8045C','#F00030','#FF0000','#FF0000'],ticks:foldTicksF,tickFmt:v=>v.toFixed(1),
 sizeLegend:sizeLegendF,sizePx:sizePxF,sizeX:2001.6,sizeY:[687,757,833,913],sizeGap:15});

function catLegend(terms,left,top,gap,w){return {type:'plain',orient:'vertical',left,top,itemGap:gap,itemWidth:w,itemHeight:2,icon:'rect',selectedMode:false,padding:0,
 data:terms.map((n,i)=>({name:n,itemStyle:{color:hueColors[i],opacity:.6}})),textStyle:{fontSize:10,color:'#333',fontFamily:SANS,padding:[0,0,0,2]}};}
const legend=[catLegend(termsE,813,993,13.4,17),catLegend(termsF,2253,1003,11,15)];

txt('ImmuneScore',538,33,51.5,{font:'51.5px '+SERIF,align:'center'});
txt('StromalScore',1473,33,51.5,{font:'51.5px '+SERIF,align:'center'});
txt('UP',2364,28,27,{font:'27px '+SERIF,align:'center'});
txt('Down',2364.5,452,28,{font:'28px '+SERIF,align:'center'});
[['A',0,16],['B',970,15],['C',2008,16],['D',2008,471],['E',0,861],['F',1519,861]].forEach(p=>txt(p[0],p[1],p[2],25,{font:'25px "Open Sans"'}));
[['category',811,972],['fold change',811,1122],['size',811,1272],['category',2251,985],['size',2251,1118.5],['fold change',2251,1271.6]].forEach(p=>txt(p[0],p[1],p[2],11.5,{fill:'#222'}));

const chart=echarts.init(document.getElementById('c'),null,{renderer:'canvas'});
chart.setOption({animation:false,backgroundColor:'#fff',grid,xAxis,yAxis,series,visualMap,legend,graphic:{elements:gtexts}});
</script></body></html>
